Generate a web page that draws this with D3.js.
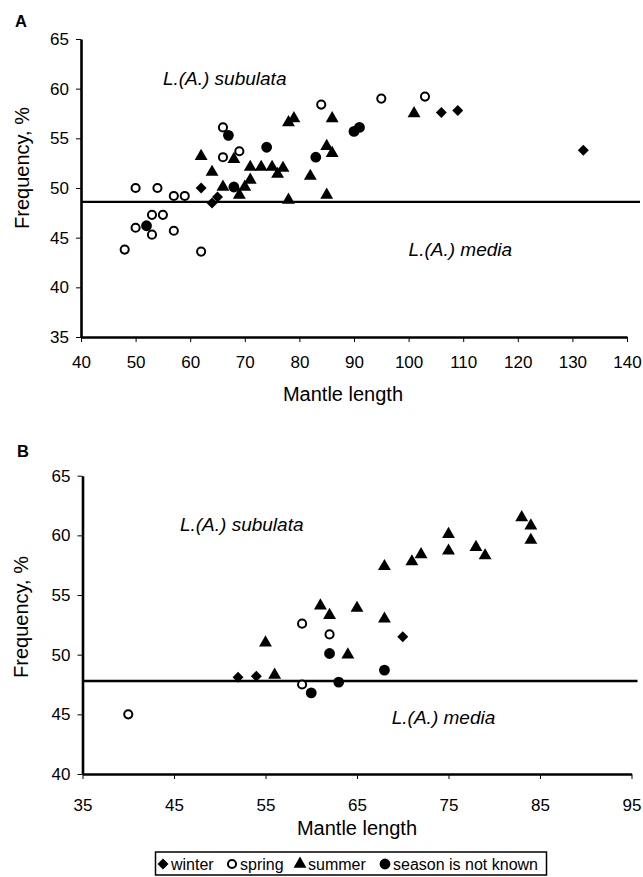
<!DOCTYPE html>
<html>
<head>
<meta charset="utf-8">
<script src="https://cdn.jsdelivr.net/npm/d3@7"></script>
<style>
  body { margin: 0; background: #fff; }
  svg { font-family: Arial, "Liberation Sans", sans-serif; }
</style>
</head>
<body>
<svg id="chart" width="643" height="877"></svg>
<script>
// panel A: mantle length vs frequency, one array per season
var aWinter = [[62,50],[64,48.5],[65,49.1],[106,57.6],[109,57.8],[132,53.8]];
var aSpring = [[48,43.8],[50,50],[50,46],[53,47.3],[53,45.3],[54,50],[55,47.3],[57,49.2],[57,45.7],
  [59,49.2],[62,43.6],[66,56.1],[66,53.1],[69,53.7],[84,58.4],[95,59],[103,59.2]];
var aSummer = [[62,53.2],[64,51.6],[66,50.1],[68,52.9],[69,49.3],[70,50.1],[71,50.8],[71,52.1],
  [73,52.1],[75,52.1],[76,51.4],[77,52],[78,48.8],[78,56.6],[79,57],[82,51.2],[85,54.2],[86,53.5],
  [86,57],[85,49.3],[101,57.5]];
var aUnknown = [[52,46.2],[67,55.3],[68,50.1],[74,54.1],[83,53.1],[90,55.7],[91,56.1]];
var aLine = 48.6;
var aXTicks = [40,50,60,70,80,90,100,110,120,130,140];
var aYTicks = [35,40,45,50,55,60,65];

// panel B
var bWinter = [[52,48.1],[54,48.2],[70,51.5]];
var bSpring = [[40,45],[59,52.6],[59,47.5],[62,51.7]];
var bSummer = [[55,51],[56,48.3],[61,54.1],[62,53.3],[64,50],[65,53.9],[68,53],[68,57.4],[71,57.8],
  [72,58.4],[75,58.7],[75,60.1],[78,59],[79,58.3],[83,61.5],[84,60.8],[84,59.6]];
var bUnknown = [[60,46.8],[62,50.1],[63,47.7],[68,48.7]];
var bLine = 47.8;
var bXTicks = [35,45,55,65,75,85,95];
var bYTicks = [40,45,50,55,60,65];

var seasons = ['winter', 'spring', 'summer', 'season is not known'];

var svg = d3.select('#chart');

function symbolFor(kind) {
  if (kind == 'winter') return { d: d3.symbol(d3.symbolSquare, 60)(), rot: 45, fill: '#000', stroke: 'none' };
  if (kind == 'spring') return { d: d3.symbol(d3.symbolCircle, 52)(), rot: 0, fill: '#fff', stroke: '#000' };
  if (kind == 'summer') return { d: d3.symbol(d3.symbolTriangle, 72)(), rot: 0, fill: '#000', stroke: 'none' };
  return { d: d3.symbol(d3.symbolCircle, 92)(), rot: 0, fill: '#000', stroke: 'none' };
}

function drawPoints(g, data, kind, x, y) {
  var s = symbolFor(kind);
  g.selectAll('path.' + kind.split(' ')[0])
    .data(data)
    .enter().append('path')
    .attr('class', kind.split(' ')[0])
    .attr('d', s.d)
    .attr('transform', function(d) { return 'translate(' + x(d[0]) + ',' + y(d[1]) + ')rotate(' + s.rot + ')'; })
    .attr('fill', s.fill)
    .attr('stroke', s.stroke)
    .attr('stroke-width', 2);
}

function panel(o) {
  var x = d3.scaleLinear().domain(o.xd).range(o.xr);
  var y = d3.scaleLinear().domain(o.yd).range(o.yr);
  var g = svg.append('g');

  var xa = g.append('g')
    .attr('transform', 'translate(0,' + o.yr[0] + ')')
    .call(d3.axisBottom(x).tickValues(o.xt).tickSize(5).tickSizeOuter(0).tickPadding(o.xpad));
  var ya = g.append('g')
    .attr('transform', 'translate(' + o.xr[0] + ',0)')
    .call(d3.axisLeft(y).tickValues(o.yt).tickSize(5).tickSizeOuter(0).tickPadding(7));
  [xa, ya].forEach(function(a) {
    a.select('.domain').attr('stroke', '#000').attr('stroke-width', 2.6);
    a.selectAll('.tick line').attr('stroke', '#000').attr('stroke-width', 1);
    a.selectAll('.tick text').attr('fill', '#000').style('font-size', '17px').style('font-family', 'Arial, "Liberation Sans", sans-serif');
  });

  // species boundary
  g.append('line')
    .attr('x1', o.xr[0]).attr('x2', o.xr[1] + o.lineExtra)
    .attr('y1', y(o.line)).attr('y2', y(o.line))
    .attr('stroke', '#000').attr('stroke-width', 2.4);

  drawPoints(g, o.spring, 'spring', x, y);
  drawPoints(g, o.winter, 'winter', x, y);
  drawPoints(g, o.summer, 'summer', x, y);
  drawPoints(g, o.unknown, 'season is not known', x, y);

  g.append('text').attr('x', x(o.sub[0])).attr('y', y(o.sub[1]))
    .style('font-style', 'italic').style('font-size', '19px').text('L.(A.) subulata');
  g.append('text').attr('x', x(o.med[0])).attr('y', y(o.med[1]))
    .style('font-style', 'italic').style('font-size', '19px').text('L.(A.) media');

  g.append('text').attr('x', o.letter[0]).attr('y', o.letter[1])
    .style('font-weight', 'bold').style('font-size', '16.5px').text(o.name);
  g.append('text').attr('x', (o.xr[0] + o.xr[1]) / 2 + o.titleShift).attr('y', o.titleY)
    .attr('text-anchor', 'middle').style('font-size', '20px').text('Mantle length');
  g.append('text').attr('transform', 'translate(' + o.ytitle[0] + ',' + o.ytitle[1] + ')rotate(-90)')
    .attr('text-anchor', 'middle').style('font-size', '20px').text('Frequency, %');
}

panel({
  name: 'A', letter: [15, 27],
  xd: [40, 140], xr: [81, 627], yd: [35, 65], yr: [337, 39],
  xt: aXTicks, yt: aYTicks, xpad: 14, line: aLine, lineExtra: 13,
  winter: aWinter, spring: aSpring, summer: aSummer, unknown: aUnknown,
  sub: [55, 60.4], med: [100, 43.15],
  titleShift: -11, titleY: 401, ytitle: [29, 168]
});

panel({
  name: 'B', letter: [17, 457],
  xd: [35, 95], xr: [82.5, 631.5], yd: [40, 65], yr: [774, 475.7],
  xt: bXTicks, yt: bYTicks, xpad: 20, line: bLine, lineExtra: 6,
  winter: bWinter, spring: bSpring, summer: bSummer, unknown: bUnknown,
  sub: [45.65, 60.36], med: [68.8, 44.2],
  titleShift: 0, titleY: 835, ytitle: [28, 617]
});

// legend
var lg = svg.append('g');
lg.append('rect').attr('x', 155.5).attr('y', 852).attr('width', 391).attr('height', 23)
  .attr('fill', '#fff').attr('stroke', '#000').attr('stroke-width', 1.5);
var legX = [163, 232, 300, 385];
seasons.forEach(function(s, i) {
  var m = symbolFor(s);
  lg.append('path').attr('d', m.d)
    .attr('transform', 'translate(' + legX[i] + ',864)rotate(' + m.rot + ')')
    .attr('fill', m.fill).attr('stroke', m.stroke).attr('stroke-width', 2);
  lg.append('text').attr('x', legX[i] + 8).attr('y', 870)
    .style('font-size', '16px').text(s);
});
</script>
</body>
</html>
